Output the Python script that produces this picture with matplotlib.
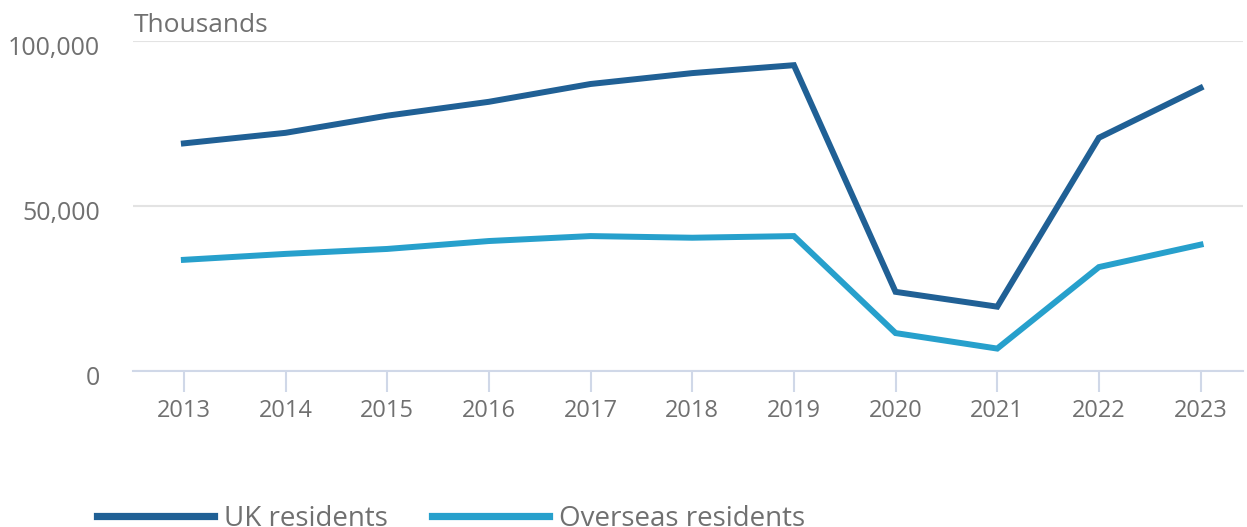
import matplotlib
matplotlib.use("Agg")
import matplotlib.pyplot as plt
import matplotlib.transforms as mtransforms
from matplotlib.ticker import FuncFormatter

years = [2013, 2014, 2015, 2016, 2017, 2018, 2019, 2020, 2021, 2022, 2023]
uk_residents = [69000, 72200, 77400, 81600, 87000, 90300, 92700, 24000, 19500, 70700, 85800]
overseas_residents = [33700, 35500, 37000, 39400, 40900, 40400, 40900, 11500, 6800, 31500, 38300]
yticks = [0, 50000, 100000]

plt.rcParams['font.family'] = ['Open Sans', 'DejaVu Sans']

fig = plt.figure(figsize=(12.47, 5.27), dpi=100)
ax = fig.add_axes([0.1067, 0.296, 0.8903, 0.626])

c_uk = '#206095'
c_os = '#27a0cc'
ax.plot(years, uk_residents, color=c_uk, lw=4.3, label='UK residents', solid_joinstyle='miter', zorder=3)
ax.plot(years, overseas_residents, color=c_os, lw=4.3, label='Overseas residents', solid_joinstyle='miter', zorder=3)

ax.set_xlim(2012.5, 2023.42)
ax.set_ylim(0, 100000)
ax.set_yticks(yticks)
ax.yaxis.set_major_formatter(FuncFormatter(lambda v, p: f"{int(v):,}"))
ax.set_xticks(years)

for s in ['top', 'right', 'left']:
    ax.spines[s].set_visible(False)
ax.spines['bottom'].set_color('#d0d8e8')
ax.spines['bottom'].set_linewidth(1.5)
ax.set_axisbelow(True)
ax.grid(axis='y', color='#e3e3e3', lw=1.5)
ax.tick_params(axis='y', length=0, pad=24, labelsize=18, labelcolor='#707070')
ax.tick_params(axis='x', length=15, width=1.5, color='#d0d8e8', pad=5, labelsize=17, labelcolor='#707070')
offset = mtransforms.ScaledTranslation(0, -4 / 100, fig.dpi_scale_trans)
for lbl in ax.get_yticklabels():
    lbl.set_transform(lbl.get_transform() + offset)

ax.text(0.001, 1.01, 'Thousands', transform=ax.transAxes, fontsize=19, color='#707070',
        ha='left', va='bottom')

leg = fig.legend(loc='lower left', bbox_to_anchor=(0.058, -0.058), ncol=2, frameon=False,
                 fontsize=20, labelcolor='#707070', handlelength=4.2, handletextpad=0.36,
                 columnspacing=1.6)
for l in leg.get_lines():
    l.set_linewidth(5.2)

fig.savefig('out.png', dpi=100)
